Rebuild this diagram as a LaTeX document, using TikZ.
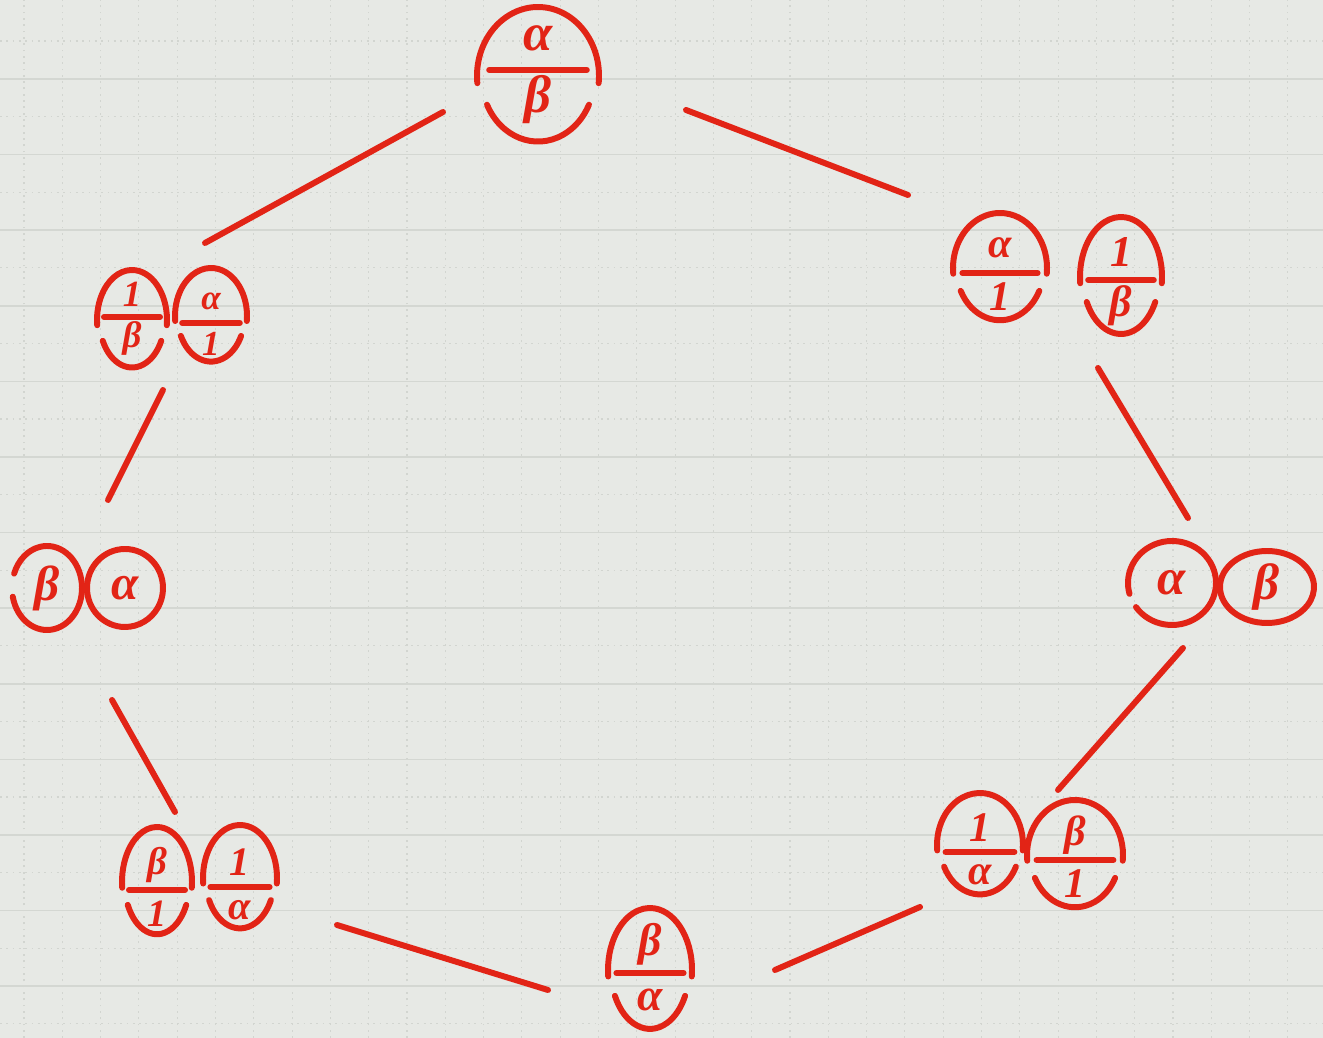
\documentclass[tikz,border=0pt]{standalone}
\usepackage{fontspec}
\newfontfamily\symf{Liberation Serif}
\usetikzlibrary{calc}
\definecolor{pen}{RGB}{226,36,22}
\definecolor{paper}{RGB}{231,233,229}
\definecolor{rule}{RGB}{212,215,210}
\definecolor{dots}{RGB}{210,213,208}
\tikzset{
  ink/.style={draw=pen,line width=3.4pt,line cap=round,line join=round},
  conn/.style={ink},
  sym/.style={text=pen,inner sep=0pt},
}
% arc of an ellipse around a named point
\newcommand{\earc}[5]{%
  \pgfmathsetmacro\ex{(#2)*cos(#4)}\pgfmathsetmacro\ey{(#3)*sin(#4)}%
  \draw[ink] ($(#1)+(\ex,\ey)$) arc[start angle=#4,end angle=#5,x radius=#2,y radius=#3];}
% fraction blob: name, x, screen y, rx, ry, numerator, denominator, bar offset (screen), font size
\newcommand{\fblob}[9]{%
  \coordinate (#1) at (#2,{1038-#3});
  \pgfmathsetmacro\rxb{0.93*#4}\pgfmathsetmacro\ryb{0.95*#5}\pgfmathsetmacro\bw{0.8*#4}%
  \earc{#1}{#4}{#5}{-6}{186}
  \earc{#1}{\rxb}{\ryb}{206}{334}
  \draw[ink] ($(#1)+(-\bw,{-(#8)})$) -- ++({2*\bw},0);
  \node[sym,font=\fontsize{#9}{#9}\selectfont\symf\bfseries\itshape] (#1-n) at ($(#1)+(0,{-(#8)+0.46*#5})$) {#6};
  \node[sym,font=\fontsize{#9}{#9}\selectfont\symf\bfseries\itshape] (#1-d) at ($(#1)+(0,{-(#8)-0.43*#5})$) {#7};}
% single blob: name, x, screen y, rx, ry, symbol, start angle, end angle, font size
\newcommand{\sblob}[9]{%
  \coordinate (#1) at (#2,{1038-#3});
  \earc{#1}{#4}{#5}{#7}{#8}
  \node[sym,font=\fontsize{#9}{#9}\selectfont\symf\bfseries\itshape] (#1-s) at (#1) {#6};}
\begin{document}
\begin{tikzpicture}[x=0.02cm,y=0.02cm]
\fill[paper] (0,0) rectangle (1323,1038);
\useasboundingbox (0,0) rectangle (1323,1038);
% grid paper
\foreach \k in {0,...,13} {
  \draw[dots,line width=0.6pt,dash pattern=on 1pt off 2.6pt] (0,{1038-(41+75.6*\k)}) -- ++(1323,0);}
\foreach \k in {0,...,34} {
  \draw[dots,line width=0.6pt,dash pattern=on 1pt off 2.6pt] ({24+38.3*\k},0) -- ++(0,1038);}
\foreach \k in {0,...,12} {
  \draw[rule,line width=0.9pt] (0,{1038-(79+75.6*\k)}) -- ++(1323,0);}

% blobs
\fblob{A}{538}{76}{61}{69}{α}{β}{-6}{30}
\fblob{B1}{132}{320}{35}{50}{1}{β}{-3}{21}
\fblob{B2}{211}{316}{36}{48}{α}{1}{7}{20}
\sblob{C1}{47}{588}{35}{42}{β}{192}{520}{28}
\sblob{C2}{125}{588}{38}{39}{α}{0}{365}{28}
\fblob{D1}{157}{882}{35}{55}{β}{1}{8}{22}
\fblob{D2}{240}{878}{37}{53}{1}{α}{9}{23}
\fblob{E}{650}{970}{42}{62}{β}{α}{3}{26}
\fblob{F1}{980}{845}{43}{52}{1}{α}{7}{24}
\fblob{F2}{1075}{855}{48}{55}{β}{1}{5}{24}
\sblob{G1}{1172}{583}{44}{42}{α}{215}{555}{29}
\sblob{G2}{1267}{587}{47}{36}{β}{0}{365}{29}
\fblob{H1}{1000}{268}{47}{55}{α}{1}{5}{24}
\fblob{H2}{1121}{277}{41}{60}{1}{β}{3}{25}

% group hubs
\coordinate (B) at (172,{1038-318});
\coordinate (C) at (86,{1038-588});
\coordinate (D) at (198,{1038-880});
\coordinate (F) at (1027,{1038-850});
\coordinate (G) at (1220,{1038-585});
\coordinate (H) at (1060,{1038-272});

% connectors
\draw[conn] ([shift={(-95,-36)}]A.center) -- ([shift={(33,75)}]B.center);
\draw[conn] ([shift={(148,-34)}]A.center) -- ([shift={(-152,77)}]H.center);
\draw[conn] ([shift={(38,-96)}]H.center) -- ([shift={(-32,67)}]G.center);
\draw[conn] ([shift={(-37,-63)}]G.center) -- ([shift={(31,60)}]F.center);
\draw[conn] ([shift={(-107,-57)}]F.center) -- ([shift={(125,0)}]E.center);
\draw[conn] ([shift={(-102,-20)}]E.center) -- ([shift={(139,-45)}]D.center);
\draw[conn] ([shift={(-23,68)}]D.center) -- ([shift={(26,-112)}]C.center);
\draw[conn] ([shift={(22,88)}]C.center) -- ([shift={(-9,-72)}]B.center);
\end{tikzpicture}
\end{document}
